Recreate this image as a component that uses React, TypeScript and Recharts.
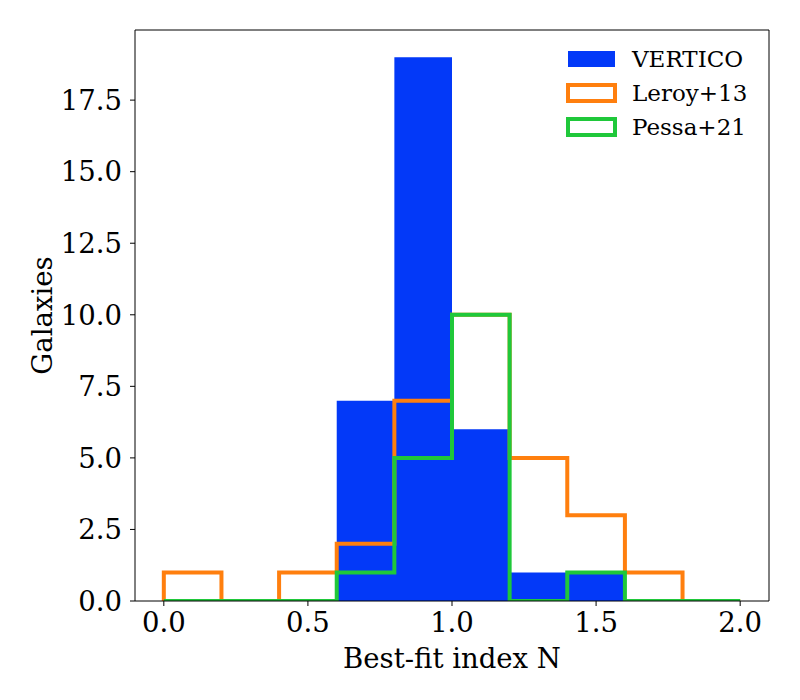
import React from "react";
import {
  ComposedChart, Area, Line, XAxis, YAxis, Legend, Label, ReferenceLine,
} from "recharts";

// histogram bins, width 0.2, from 0.0 to 2.0
const binEdges = [0.0, 0.2, 0.4, 0.6, 0.8, 1.0, 1.2, 1.4, 1.6, 1.8, 2.0];
const vertico = [0, 0, 0, 7, 19, 6, 1, 1, 0, 0];
const leroy13 = [1, 0, 1, 2, 7, 10, 5, 3, 1, 0];
const pessa21 = [0, 0, 0, 1, 5, 10, 0, 1, 0, 0];

const xTicks = [0.0, 0.5, 1.0, 1.5, 2.0];
const yTicks = [0, 2.5, 5, 7.5, 10, 12.5, 15, 17.5];

const BLUE = "#0339f8";
const ORANGE = "#ff7f0e";
const GREEN = "#1fc83a";
const FONT = "'DejaVu Serif', 'Liberation Serif', serif";

const legendItems = [
  { name: "VERTICO", color: BLUE, filled: true },
  { name: "Leroy+13", color: ORANGE, filled: false },
  { name: "Pessa+21", color: GREEN, filled: false },
];

// step rows: start at 0, one row per left edge, close at the last edge
const rows = [
  { x: binEdges[0], vertico: 0, leroy: 0, pessa: 0 },
  ...vertico.map((v, i) => ({
    x: binEdges[i],
    vertico: v,
    leroy: leroy13[i],
    pessa: pessa21[i],
  })),
  { x: binEdges[binEdges.length - 1], vertico: 0, leroy: 0, pessa: 0 },
];

function HistLegend() {
  return (
    <div style={{ fontFamily: FONT, fontSize: 23, color: "#000" }}>
      {legendItems.map((it) => (
        <div key={it.name} style={{ display: "flex", alignItems: "center", height: 34 }}>
          <svg width={52} height={20} style={{ marginRight: 14 }}>
            {it.filled ? (
              <rect x={2} y={2} width={47} height={16} fill={it.color} />
            ) : (
              <rect x={2} y={2} width={47} height={16} fill="none" stroke={it.color} strokeWidth={4} />
            )}
          </svg>
          <span>{it.name}</span>
        </div>
      ))}
    </div>
  );
}

export default function App() {
  const tick = { fontSize: 27.5, fill: "#000", fontFamily: FONT };
  return (
    <div style={{ position: "absolute", left: 0, top: 0, width: 800, height: 700, background: "#fff" }}>
      <ComposedChart
        width={800}
        height={700}
        data={rows}
        margin={{ top: 30, right: 31, bottom: 0, left: 0 }}
      >
        <XAxis
          type="number"
          dataKey="x"
          domain={[-0.1, 2.1]}
          ticks={xTicks}
          allowDataOverflow
          tickFormatter={(v) => v.toFixed(1)}
          tick={tick}
          height={99}
          stroke="#000"
          tickSize={5}
          tickMargin={6}
        >
          <Label value="Best-fit index N" position="center" dy={8}
            style={{ fontSize: 27.5, fill: "#000", fontFamily: FONT }} />
        </XAxis>
        <YAxis
          type="number"
          domain={[0, 19.95]}
          ticks={yTicks}
          allowDataOverflow
          tickFormatter={(v) => v.toFixed(1)}
          tick={tick}
          width={135}
          stroke="#000"
          tickSize={5}
          tickMargin={8}
        >
          <Label value="Galaxies" position="center" angle={-90} dx={-25}
            style={{ fontSize: 27.5, fill: "#000", fontFamily: FONT }} />
        </YAxis>
        {/* top and right spines */}
        <ReferenceLine y={19.95} stroke="#000" strokeWidth={1} />
        <ReferenceLine x={2.1} stroke="#000" strokeWidth={1} />
        <Legend
          verticalAlign="middle"
          align="center"
          layout="horizontal"
          content={() => <HistLegend />}
          wrapperStyle={{ top: 42, left: 566, width: 220, height: 110 }}
        />
        <Area type="stepAfter" dataKey="vertico" name="VERTICO" stroke="none"
          fill={BLUE} fillOpacity={1} isAnimationActive={false} />
        <Line type="stepAfter" dataKey="leroy" name="Leroy+13" stroke={ORANGE}
          strokeWidth={4} dot={false} activeDot={false} isAnimationActive={false}
          strokeLinejoin="miter" strokeLinecap="butt" />
        <Line type="stepAfter" dataKey="pessa" name="Pessa+21" stroke={GREEN}
          strokeWidth={4} dot={false} activeDot={false} isAnimationActive={false}
          strokeLinejoin="miter" strokeLinecap="butt" />
      </ComposedChart>
    </div>
  );
}
